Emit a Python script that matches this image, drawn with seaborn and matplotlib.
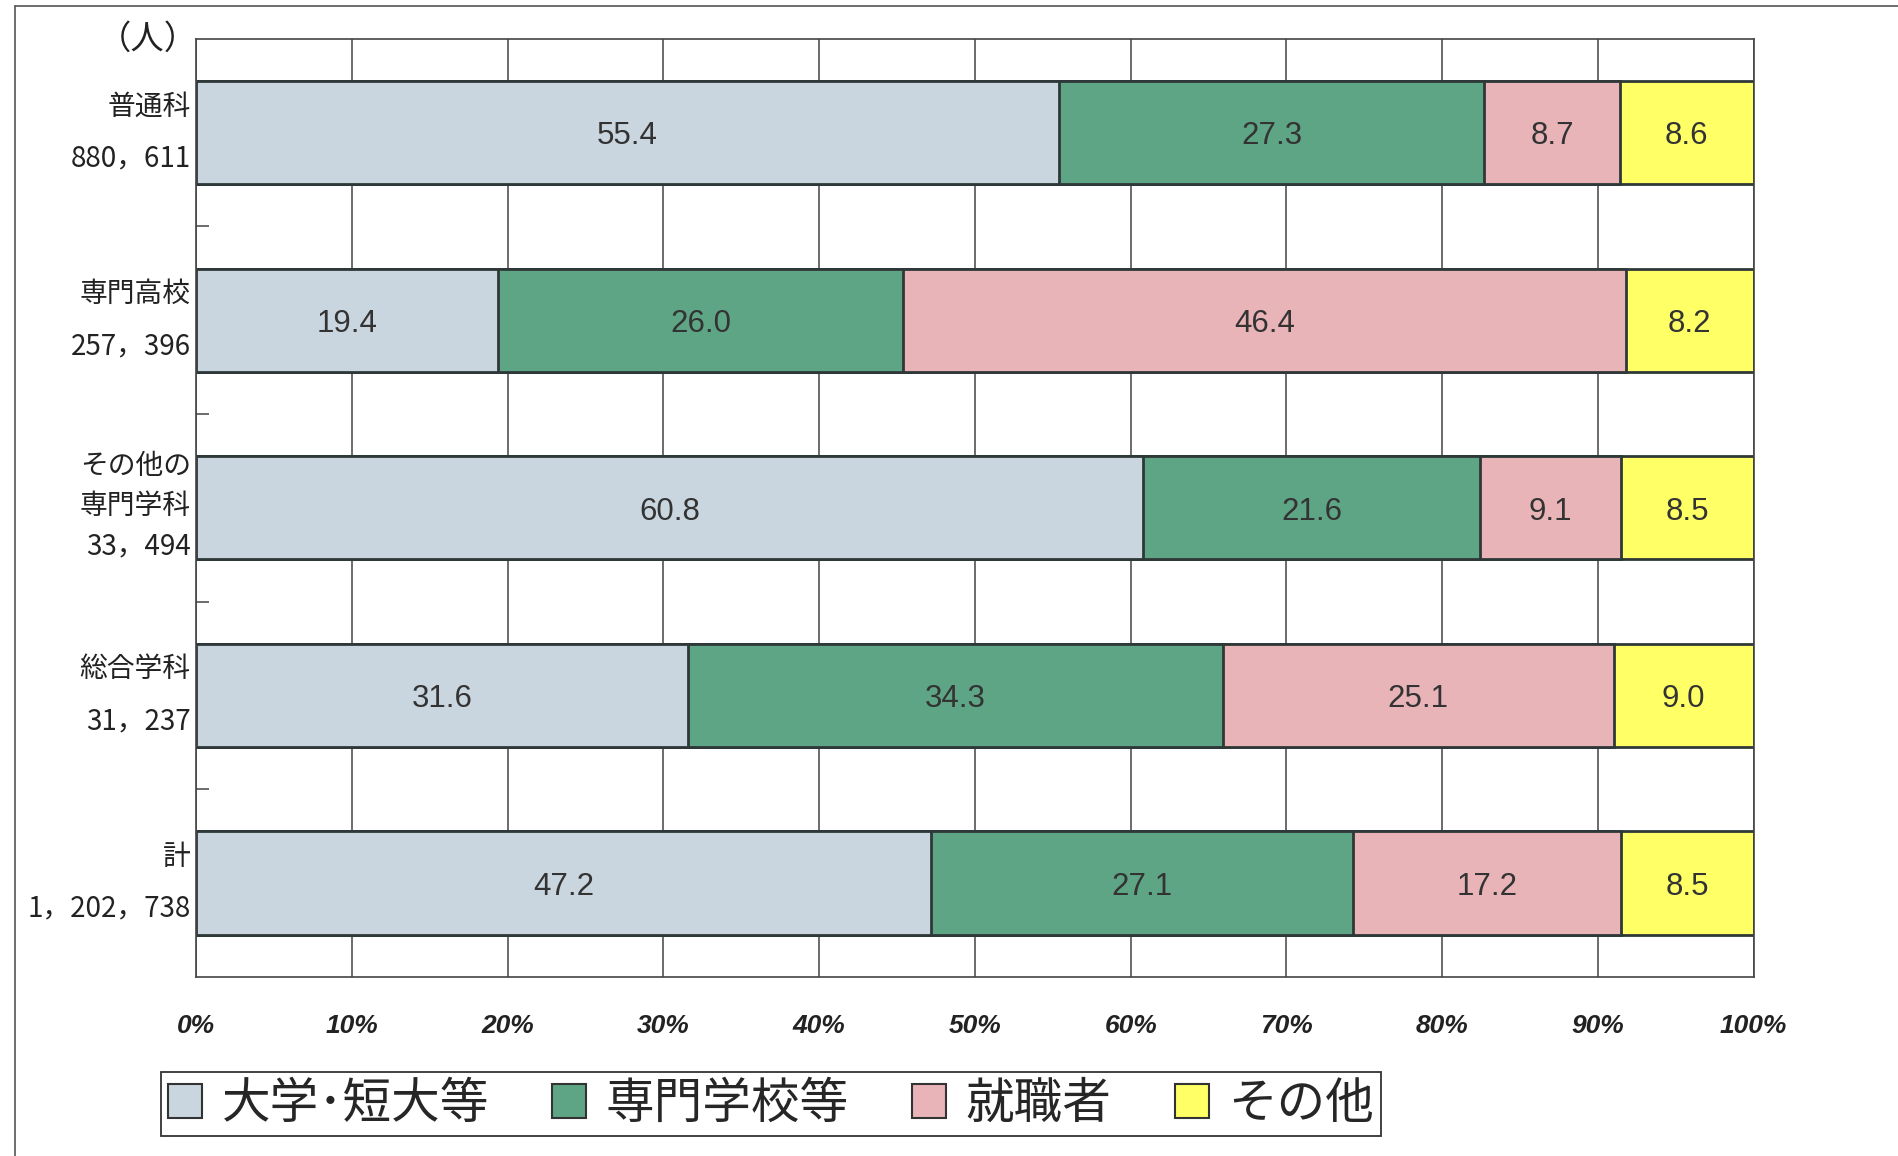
import numpy as np
import pandas as pd
import seaborn as sns
import matplotlib.pyplot as plt
from matplotlib.patches import Patch
from matplotlib.lines import Line2D

# data
courses = ['普通科', '専門高校', 'その他の\n専門学科', '総合学科', '計']
students = ['880，611', '257，396', '33，494', '31，237', '1，202，738']
daigaku = [55.4, 19.4, 60.8, 31.6, 47.2]
senmon = [27.3, 26.0, 21.6, 34.3, 27.1]
shushoku = [8.7, 46.4, 9.1, 25.1, 17.2]
sonota = [8.6, 8.2, 8.5, 9.0, 8.5]
series_names = ['大学･短大等', '専門学校等', '就職者', 'その他']
xticks = [0, 10, 20, 30, 40, 50, 60, 70, 80, 90, 100]

colors = ['#c9d5df', '#5ea585', '#e8b4b8', '#ffff66']
edge = '#2f3838'

sns.set_theme(style='white')
plt.rcParams['font.family'] = ['Noto Sans CJK JP', 'DejaVu Sans']

df = pd.DataFrame({'course': courses, series_names[0]: daigaku, series_names[1]: senmon,
                   series_names[2]: shushoku, series_names[3]: sonota})
vals = df[series_names].to_numpy()
cum = vals.cumsum(axis=1)

fig = plt.figure(figsize=(18.99, 11.56), dpi=100)
ax = fig.add_axes([0.1033, 0.155, 0.8202, 0.8115])

# stacked bars: draw the longest cumulative first, shorter ones on top
for i in reversed(range(4)):
    sns.barplot(x=cum[:, i], y=df['course'], orient='h', color=colors[i], saturation=1,
                width=0.55, edgecolor=edge, linewidth=2, ax=ax)

for j in range(len(courses)):
    for i in range(4):
        v = vals[j, i]
        ax.text(cum[j, i] - v / 2, j + 0.02, f'{v:.1f}', ha='center', va='center',
                fontsize=22.5, color='#333333', family=['Liberation Sans', 'DejaVu Sans'])

ax.set_xlim(0, 100)
ax.set_ylim(4.5, -0.5)
ax.set_axisbelow(True)
ax.set_xticks(xticks)
ax.set_xticklabels([f'{t}%' for t in xticks], fontsize=19, fontweight='bold', style='italic',
                   family=['Liberation Sans', 'DejaVu Sans'], color='#222222')
ax.xaxis.grid(True, color='#444444', linewidth=1.1)
ax.tick_params(axis='x', length=0, pad=27)

# category labels with the student counts underneath
ax.set_yticks(range(len(courses)))
ax.set_yticklabels([''] * len(courses))
for j, (c, n) in enumerate(zip(courses, students)):
    ax.text(-0.0035, j - 0.01 if '\n' in c else j, f'{c}\n{n}', transform=ax.get_yaxis_transform(),
            ha='right', va='center', fontsize=20, color='#222222', multialignment='right',
            linespacing=1.45 if '\n' in c else 1.95)
ax.tick_params(axis='y', which='major', length=0, pad=4)
ax.set_yticks([0.5, 1.5, 2.5, 3.5], minor=True)
ax.tick_params(axis='y', which='minor', direction='in', length=9, width=1.1, color='#444444', left=True)
ax.set_xlabel('')
ax.set_ylabel('')

for s in ax.spines.values():
    s.set_visible(True)
    s.set_color('#444444')
    s.set_linewidth(1.2)

fig.text(0.078, 0.966, '（人）', ha='center', va='center', fontsize=24, color='#222222')

handles = [Patch(facecolor=c, edgecolor='#333333', linewidth=1.5) for c in colors]
leg = ax.legend(handles, series_names, loc='center', bbox_to_anchor=(0.406, 0.045),
                bbox_transform=fig.transFigure, ncol=4, fontsize=35, frameon=True,
                fancybox=False, edgecolor='#333333', framealpha=1, handlelength=0.7,
                handleheight=0.7, columnspacing=1.3, handletextpad=0.4, borderpad=0.15,
                borderaxespad=0)
leg.get_frame().set_linewidth(1.3)

# outer frame lines from the scanned page
fig.add_artist(Line2D([0.0077, 0.0077], [0.0, 0.995], color='#555555', linewidth=1.2))
fig.add_artist(Line2D([0.0077, 1.0], [0.995, 0.995], color='#555555', linewidth=1.2))

fig.savefig('out.png', dpi=100, facecolor='white')
